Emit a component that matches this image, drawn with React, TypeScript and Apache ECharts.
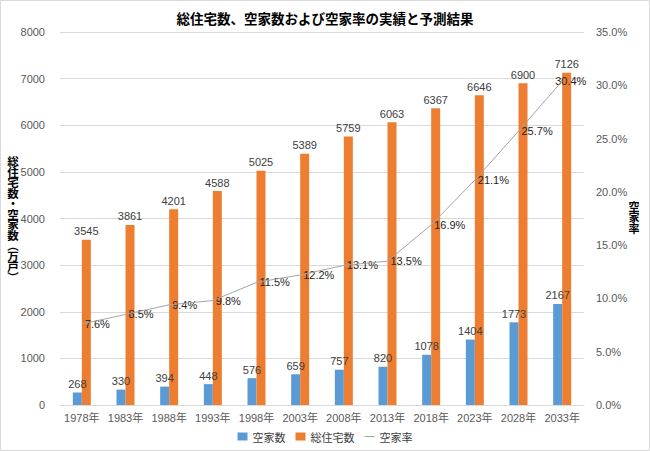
import React, { useEffect, useRef } from "react";
import * as echarts from "echarts";

const categories = ["1978年", "1983年", "1988年", "1993年", "1998年", "2003年", "2008年", "2013年", "2018年", "2023年", "2028年", "2033年"];
const vacantHouses = [268, 330, 394, 448, 576, 659, 757, 820, 1078, 1404, 1773, 2167];
const totalHouses = [3545, 3861, 4201, 4588, 5025, 5389, 5759, 6063, 6367, 6646, 6900, 7126];
const vacancyRate = [7.6, 8.5, 9.4, 9.8, 11.5, 12.2, 13.1, 13.5, 16.9, 21.1, 25.7, 30.4];

const FONT = "'Noto Sans CJK JP', 'Noto Sans', sans-serif";
const NUMFONT = "'Liberation Sans', 'Noto Sans CJK JP', sans-serif";

export default function App() {
  const ref = useRef<HTMLDivElement>(null);
  useEffect(() => {
    if (!ref.current) return;
    const chart = echarts.init(ref.current, null, { renderer: "svg" });
    const rateLabelData = vacancyRate.map((v, i) =>
      i === vacancyRate.length - 1 ? { value: v, label: { offset: [-10, 0] } } : v
    );
    chart.setOption({
      animation: false,
      backgroundColor: "#ffffff",
      textStyle: { fontFamily: FONT },
      title: {
        text: "総住宅数、空家数および空家率の実績と予測結果",
        left: "center",
        top: 6,
        textStyle: { fontSize: 13.5, fontWeight: "bold", color: "#000", fontFamily: FONT },
      },
      legend: {
        bottom: 4,
        left: "center",
        itemWidth: 10,
        itemHeight: 8,
        itemGap: 10,
        symbolKeepAspect: true,
        textStyle: { fontSize: 11, color: "#404040", fontFamily: FONT },
        data: [
          { name: "空家数", icon: "rect" },
          { name: "総住宅数", icon: "rect" },
          { name: "空家率", icon: "path://M0,0h10v1H0z" },
        ],
      },
      grid: { left: 60, right: 66, top: 32, bottom: 46, containLabel: false },
      xAxis: {
        type: "category",
        data: categories,
        axisTick: { show: false },
        axisLine: { show: true, lineStyle: { color: "#d9d9d9" } },
        axisLabel: { fontSize: 11, color: "#595959", margin: 7, interval: 0, fontFamily: NUMFONT },
      },
      yAxis: [
        {
          type: "value",
          min: 0,
          max: 8000,
          interval: 1000,
          axisLine: { show: false },
          axisTick: { show: false },
          splitLine: { lineStyle: { color: "#d9d9d9" } },
          axisLabel: {
            fontSize: 11,
            color: "#595959",
            margin: 15,
            fontFamily: NUMFONT,
            formatter: (v: number) => String(v),
          },
        },
        {
          type: "value",
          min: 0,
          max: 35,
          interval: 5,
          axisLine: { show: false },
          axisTick: { show: false },
          splitLine: { show: false },
          axisLabel: {
            fontSize: 11,
            color: "#595959",
            margin: 12,
            fontFamily: NUMFONT,
            formatter: (v: number) => v.toFixed(1) + "%",
          },
        },
      ],
      series: [
        {
          name: "空家数",
          type: "bar",
          data: vacantHouses,
          barWidth: 9,
          barGap: "0%",
          itemStyle: { color: "#5b9bd5" },
          label: { show: true, position: "top", fontSize: 11, color: "#404040", distance: 3, fontFamily: NUMFONT },
        },
        {
          name: "総住宅数",
          type: "bar",
          data: totalHouses,
          barWidth: 9,
          barGap: "0%",
          itemStyle: { color: "#ed7d31" },
          label: { show: true, position: "top", fontSize: 11, color: "#404040", distance: 3, fontFamily: NUMFONT },
        },
        {
          name: "空家率",
          type: "line",
          yAxisIndex: 1,
          data: vacancyRate,
          symbol: "none",
          lineStyle: { color: "#a5a5a5", width: 1 },
          itemStyle: { color: "#a5a5a5" },
        },
        {
          name: "空家率ラベル",
          type: "scatter",
          yAxisIndex: 1,
          data: rateLabelData,
          symbol: "circle",
          symbolSize: 0,
          itemStyle: { color: "#a5a5a5", opacity: 1 },
          silent: true,
          label: {
            show: true,
            position: "right",
            distance: 3,
            fontSize: 11,
            color: "#262626",
            opacity: 1,
            fontFamily: NUMFONT,
            formatter: (p: any) => Number(p.value).toFixed(1) + "%",
          },
        },
      ],
      graphic: [
        {
          type: "rect",
          shape: { x: 0.5, y: 0.5, width: 649, height: 450 },
          style: { fill: "none", stroke: "#d9d9d9", lineWidth: 1 },
          silent: true,
        },
        {
          type: "text",
          x: 13,
          y: 219,
          style: {
            text: "総\n住\n宅\n数\n・\n空\n家\n数\n︵\n万\n戸\n︶",
            fontSize: 11.5,
            lineHeight: 10.5,
            fontWeight: "bold",
            fill: "#000",
            align: "center",
            verticalAlign: "middle",
            fontFamily: FONT,
          },
        },
        {
          type: "text",
          x: 634,
          y: 217,
          style: {
            text: "空\n家\n率",
            fontSize: 11,
            lineHeight: 11,
            fontWeight: "bold",
            fill: "#000",
            align: "center",
            verticalAlign: "middle",
            fontFamily: FONT,
          },
        },
      ],
    });
    return () => chart.dispose();
  }, []);
  return (
    <div
      ref={ref}
      style={{ position: "fixed", left: 0, top: 0, width: 650, height: 451 }}
    />
  );
}
